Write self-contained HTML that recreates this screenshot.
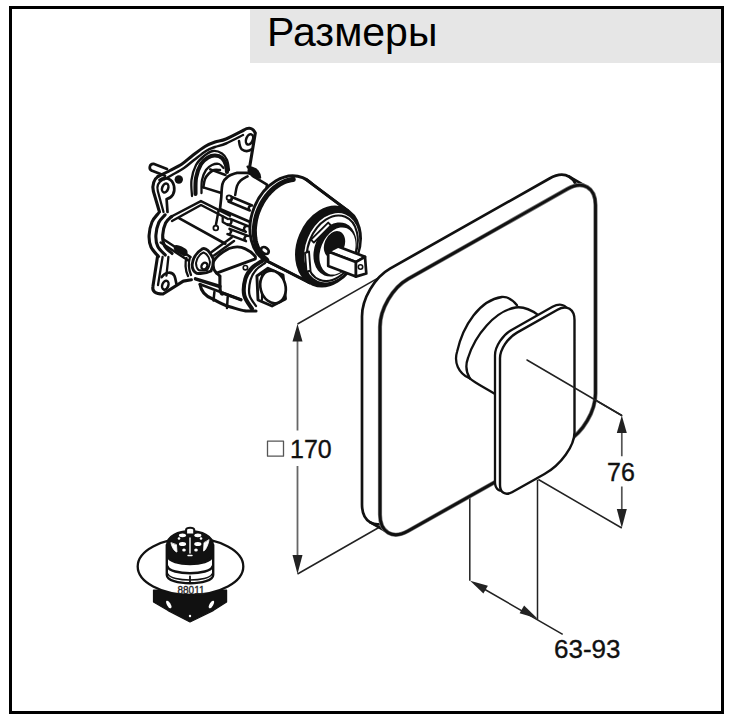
<!DOCTYPE html>
<html><head><meta charset="utf-8"><style>
html,body{margin:0;padding:0;background:#fff;width:739px;height:722px;overflow:hidden}
#frame{position:absolute;left:9px;top:6px;width:709px;height:702px;border:3px solid #000}
#hdr{position:absolute;left:250px;top:9px;width:471px;height:54px;background:#e6e6e6}
.t{position:absolute;font-family:"Liberation Sans",sans-serif;line-height:1;white-space:nowrap;color:#111}
.d{-webkit-text-stroke:0.35px #111}
svg{position:absolute;left:0;top:0}
</style></head><body>
<div id="frame"></div>
<div id="hdr"></div>
<div class="t" style="left:267px;top:12px;font-size:41px;color:#000">Размеры</div>
<svg width="739" height="722" viewBox="0 0 739 722" fill="none" stroke-linecap="round" stroke-linejoin="round">
<path d="M297.5 324 L381 276.3 M297.5 574 L390.2 521 M527 360 L621.8 415.5 M538.4 479.5 L621.8 528 M469.8 477 L469.8 580.8 M537.5 479.7 L537.5 619.6 M478 585.5 L562.7 634.3" stroke="#222" stroke-width="1.5" stroke-linecap="butt"/>
<path d="M297.5 338 L297.5 430.6 M297.5 465.9 L297.5 560" stroke="#666" stroke-width="1.8" stroke-linecap="butt"/>
<path d="M297.5 324.0 L302.5 341.5 L292.5 341.5 Z" fill="#222" stroke="none"/>
<path d="M297.5 574.0 L292.5 555.0 L302.5 555.0 Z" fill="#222" stroke="none"/>
<path d="M621.8 430 L621.8 456.3 M621.8 486.4 L621.8 512" stroke="#555" stroke-width="1.7" stroke-linecap="butt"/>
<path d="M621.8 415.5 L626.8 433.0 L616.8 433.0 Z" fill="#222" stroke="none"/>
<path d="M621.8 528.0 L616.8 509.0 L626.8 509.0 Z" fill="#222" stroke="none"/>
<path d="M470.1 580.7 L487.9 585.8 L483.4 593.6 Z" fill="#222" stroke="none"/>
<path d="M537.4 618.4 L519.6 613.3 L524.1 605.5 Z" fill="#222" stroke="none"/>
<rect x="267.5" y="441.2" width="16" height="15" stroke="#555" stroke-width="1.3"/>
<path d="M362.0 316.4C362.0 298.8 374.6 277.3 390.0 268.6L549.5 178.5C564.9 169.8 577.5 177.1 577.5 194.7L577.5 383.0C577.5 400.6 564.9 422.1 549.5 430.8L390.0 520.6C374.6 529.3 362.0 522.0 362.0 504.4Z" fill="#fff" stroke="#111" stroke-width="2.7"/>
<path d="M569.3 176.7 L587.3 187.1 M370.3 522.3 L388.3 532.7" stroke="#111" stroke-width="2.6"/>
<path d="M380.0 326.8C380.0 309.2 392.6 287.7 408.0 279.0L567.5 188.9C582.9 180.2 595.5 187.5 595.5 205.1L595.5 393.4C595.5 411.0 582.9 432.5 567.5 441.2L408.0 531.0C392.6 539.7 380.0 532.4 380.0 514.8Z" fill="#fff" stroke="#777" stroke-width="4.2"/>
<path d="M380.0 326.8C380.0 309.2 392.6 287.7 408.0 279.0L567.5 188.9C582.9 180.2 595.5 187.5 595.5 205.1L595.5 393.4C595.5 411.0 582.9 432.5 567.5 441.2L408.0 531.0C392.6 539.7 380.0 532.4 380.0 514.8Z" fill="none" stroke="#111" stroke-width="2.8"/>
<path d="M469.5 378.3 C458 373 454 362 457 352 C463 325 480 300 501.8 297 C508 296.5 513 300 517 305.2 L538.3 315.1 L494.2 393.5 Z" fill="#fff" stroke="none"/>
<path d="M469.5 378.3 C458 373 454 362 457 352 C463 325 480 300 501.8 297 C508 296.5 513 300 517 305.2" stroke="#111" stroke-width="2.3"/>
<path d="M469.8 378.3 C466 372 465 366 468 358 C475 335 495 311 515.5 307.5 C522 306.5 530 309 538.3 315.1" stroke="#111" stroke-width="2.3"/>
<path d="M469.8 378.3 C472 381 476 383 494.2 393.5" stroke="#111" stroke-width="2.3"/>
<path d="M495.0 355.3C495.0 346.5 502.6 335.0 512.0 329.7L552.5 306.8C561.9 301.5 569.5 306.2 569.5 317.2L569.5 429.3C569.5 443.0 556.0 461.8 539.5 471.1L507.0 489.3C500.4 493.0 495.0 489.7 495.0 482.0Z" fill="#fff" stroke="#111" stroke-width="2.3"/>
<path d="M500.0 358.2C500.0 349.4 507.6 337.9 517.0 332.6L557.5 309.7C566.9 304.4 574.5 309.1 574.5 320.1L574.5 432.2C574.5 445.9 561.0 464.7 544.5 474.0L512.0 492.2C505.4 495.9 500.0 492.6 500.0 484.9Z" fill="#fff" stroke="#111" stroke-width="2.4"/>
<path d="M527 360 L621.8 415.5" stroke="#222" stroke-width="1.5"/>
<path d="M164.4 175.2 L185.5 159 L205 144.4 L226 139.5 L247 127.5 L255.3 133 L249 172 L262 200 L240 262 L191.4 279.8 L183.3 281.1 L163 294 C155 294 152 291 152.9 286.5 L157.6 254 L160.5 212 L153.3 191 C152 185 154 178 160 175 Z" fill="#fff" stroke="none" stroke-width="0.00"/>
<path d="M158.0 176.5C160.0 175.5 166.0 172.6 170.0 170.5C174.0 168.4 178.3 166.4 182.0 164.0C185.7 161.6 188.2 158.9 192.0 156.0C195.8 153.1 201.2 148.8 205.0 146.5C208.8 144.2 211.5 143.2 215.0 142.0C218.5 140.8 221.2 141.0 226.0 139.0C230.8 137.0 241.0 131.5 244.0 130.0 C247 128 252 126.5 255.3 133 L249 171" fill="none" stroke="#111" stroke-width="3.10"/>
<path d="M164.0 179.5C165.3 178.8 168.7 176.9 172.0 175.0C175.3 173.1 180.3 170.5 184.0 168.0C187.7 165.5 190.3 162.8 194.0 160.0C197.7 157.2 202.5 153.2 206.0 151.0C209.5 148.8 211.7 148.2 215.0 147.0C218.3 145.8 221.3 145.5 226.0 143.5C230.7 141.5 240.2 136.4 243.0 135.0" fill="none" stroke="#111" stroke-width="2.50"/>
<path d="M239 141 C239.5 145 240 148 242 149.5 C245 151.5 249 151.5 252 149" fill="none" stroke="#111" stroke-width="2.50"/>
<ellipse cx="249.5" cy="139.4" rx="3.3" ry="5.4" transform="rotate(20.0 249.5 139.4)" fill="none" stroke="#111" stroke-width="2.50"/>
<path d="M158 176.5 C154 179 152 185 153.3 191 L159.5 212" fill="none" stroke="#111" stroke-width="3.10"/>
<path d="M163 179.5 C158.5 182 156.5 186 157.8 191 L163.5 212" fill="none" stroke="#111" stroke-width="2.30"/>
<path d="M159.5 180 C165 176 172.5 178.5 174 186 C175.5 193 172 198 166.6 199 L167.5 212" fill="none" stroke="#111" stroke-width="2.70"/>
<ellipse cx="165.2" cy="188.0" rx="3.0" ry="4.6" transform="rotate(20.0 165.2 188.0)" fill="none" stroke="#111" stroke-width="2.50"/>
<path d="M157.6 256 L152.9 286.5 C152 291 155 294 163 294 L183.3 281.1 L191.4 279.8" fill="none" stroke="#111" stroke-width="3.10"/>
<path d="M162.6 257 L158 285" fill="none" stroke="#111" stroke-width="2.30"/>
<ellipse cx="165.3" cy="285.2" rx="3.0" ry="4.6" transform="rotate(20.0 165.3 285.2)" fill="none" stroke="#111" stroke-width="2.50"/>
<path d="M161.7 277 C165 272 172 271 174.5 276 C176 280 176 283 176.5 284" fill="none" stroke="#111" stroke-width="2.70"/>
<path d="M168.4 256.8 L166.4 275.7" fill="none" stroke="#111" stroke-width="2.30"/>
<path d="M153.5 163.8 L167 169 M151.5 170.5 L165 175.8 M153.5 163.8 C149.5 163.5 148.5 169 151.5 170.5" fill="none" stroke="#111" stroke-width="2.70"/>
<circle cx="178.8" cy="179.5" r="4.2" fill="#111"/>
<path d="M218.5 211 L215.8 225.5" fill="none" stroke="#111" stroke-width="2.50"/>
<circle cx="215.8" cy="228" r="2.4" fill="#fff" stroke="#111" stroke-width="1.8"/>
<path d="M192.0 196.0C191.9 193.3 190.8 185.2 191.5 180.0C192.2 174.8 193.9 169.0 196.0 165.0C198.1 161.0 201.2 158.3 204.0 156.0C206.8 153.7 210.0 151.4 213.0 151.0C216.0 150.6 219.7 152.0 222.0 153.5C224.3 155.0 225.8 157.2 227.0 160.0C228.2 162.8 228.7 168.3 229.0 170.0" fill="none" stroke="#111" stroke-width="2.30"/>
<path d="M195.5 194.0C195.6 191.3 195.1 183.0 196.0 178.0C196.9 173.0 199.0 167.4 201.0 164.0C203.0 160.6 205.7 158.9 208.0 157.5C210.3 156.1 212.7 155.4 215.0 155.5C217.3 155.6 220.2 156.4 222.0 158.0C223.8 159.6 225.2 162.7 226.0 165.0C226.8 167.3 226.8 170.8 227.0 172.0" fill="none" stroke="#111" stroke-width="4.10"/>
<path d="M201.5 193.0C201.6 190.8 201.2 183.8 202.0 180.0C202.8 176.2 204.3 172.5 206.0 170.0C207.7 167.5 209.8 166.0 212.0 165.0C214.2 164.0 217.1 163.5 219.0 164.0C220.9 164.5 222.8 167.3 223.5 168.0" fill="none" stroke="#111" stroke-width="2.30"/>
<path d="M203.3 187.4C203.6 186.0 204.1 181.3 205.0 179.0C205.9 176.7 207.4 175.0 208.9 173.5C210.4 172.0 212.2 170.6 214.0 170.0C215.8 169.4 219.0 170.0 220.0 170.0" fill="none" stroke="#111" stroke-width="2.50"/>
<path d="M210.2 169.4 L225.5 175 M203.3 187.4 L221.3 193" fill="none" stroke="#111" stroke-width="2.50"/>
<path d="M221.3 197.0C221.5 194.7 221.5 186.6 222.7 183.2C223.8 179.8 225.9 178.0 228.2 176.3C230.5 174.6 235.2 173.5 236.6 172.9 L246.2 172.9 C250 173 252 174.5 253.2 176.3 L267 184.6 L262 227 L220 209 Z" fill="#fff" stroke="#111" stroke-width="2.70"/>
<path d="M235.2 195.0C235.5 193.5 236.1 188.4 237.0 186.0C237.9 183.6 238.9 182.1 240.7 180.5C242.5 178.9 246.4 177.0 247.6 176.3" fill="none" stroke="#111" stroke-width="2.50"/>
<path d="M247.6 166.6 C252 167.5 256 169 257.3 170.8 C259 173 260 175 260.1 177.7 L252 175.5 C251 171 249.5 168.5 247.6 166.6 Z" fill="#111" stroke="#111" stroke-width="2.30"/>
<path d="M228.4 201.5 L249.9 210.5 A2.8 2.8 0 0 1 252.1 205.5 L230.6 196.5 A2.8 2.8 0 0 1 228.4 201.5 Z" fill="#fff" stroke="#111" stroke-width="2.50"/>
<path d="M227.4 224.3 L245.9 231.8 A3.0 3.0 0 0 1 248.1 226.2 L229.6 218.7 A3.0 3.0 0 0 1 227.4 224.3 Z" fill="#fff" stroke="#111" stroke-width="2.50"/>
<path d="M227.5 234.1 L246.0 241.1 A2.8 2.8 0 0 1 248.0 235.9 L229.5 228.9 A2.8 2.8 0 0 1 227.5 234.1 Z" fill="#fff" stroke="#111" stroke-width="2.50"/>
<path d="M222.7 216.5 L222.7 222 L228 225" fill="none" stroke="#111" stroke-width="2.30"/>
<circle cx="229" cy="197.8" r="2.4" fill="#fff" stroke="#111" stroke-width="1.8"/>
<path d="M158.3 213.3C157.2 214.8 153.5 218.3 152.0 222.0C150.5 225.7 149.3 231.0 149.1 235.2C148.9 239.4 149.4 243.4 151.0 247.0C152.6 250.6 157.2 254.9 158.5 256.5" fill="none" stroke="#111" stroke-width="3.10"/>
<path d="M165.1 214.8C164.1 216.1 160.3 219.1 158.8 222.5C157.3 225.9 156.1 231.2 155.9 235.2C155.7 239.2 156.2 243.2 157.8 246.5C159.4 249.8 164.1 253.6 165.3 255.0" fill="none" stroke="#111" stroke-width="3.10"/>
<path d="M171.9 216.3C170.8 217.4 167.1 219.8 165.6 223.0C164.1 226.2 162.9 231.4 162.7 235.2C162.5 239.0 163.0 242.9 164.6 246.0C166.2 249.1 170.8 252.2 172.1 253.5" fill="none" stroke="#111" stroke-width="3.10"/>
<path d="M170.5 217 L200.9 201.1 L230 215.7 M172 221 L201 205 L228 219" fill="none" stroke="#111" stroke-width="2.50"/>
<path d="M179 218.1 L225.3 243.7" fill="none" stroke="#111" stroke-width="2.70"/>
<path d="M160.7 242.5 L188.7 260.8 M163 239 L190.5 257" fill="none" stroke="#111" stroke-width="2.50"/>
<path d="M175.3 246.2 C178 245 185 249 186.3 251 C187 254 186 255.5 184 255 L176 250.5 C174.5 249 174.5 247 175.3 246.2 Z" fill="#111" stroke="#111" stroke-width="2.10"/>
<path d="M211.6 252 L231.6 237.6 M214 255.5 L234 241" fill="none" stroke="#111" stroke-width="2.50"/>
<path d="M200 284.3 C201 291 205 296 212.2 298.7 C218 302 223 305 228.8 306.5 C236 308.5 241 310.5 245.4 310.9 L256 311" fill="#fff" stroke="#111" stroke-width="3.10"/>
<path d="M200 284.3 L241 299.8" fill="none" stroke="#111" stroke-width="2.70"/>
<path d="M214.4 292 L213.5 300.5 M227.7 297 L227 308" fill="none" stroke="#111" stroke-width="2.50"/>
<path d="M195.5 278.8 L219.9 286.5" fill="none" stroke="#111" stroke-width="3.50"/>
<path d="M213.3 262 C216 256 222 252.2 229 248.5 C234 246.6 240 246 245.4 248.9 C250 251 253 253.5 255.4 256.6 L255.4 258.8 L216.6 273.2 C213.5 270 212.5 266 213.3 262 Z" fill="#fff" stroke="#111" stroke-width="2.90"/>
<path d="M219.9 276 L219.9 286 C220 293 222 296 223.2 293.2 L241 299.8" fill="none" stroke="#111" stroke-width="3.10"/>
<path d="M216.6 273.2 L219.9 276" fill="none" stroke="#111" stroke-width="2.70"/>
<circle cx="245.4" cy="267.7" r="2.2" fill="#fff" stroke="#111" stroke-width="1.6"/>
<path d="M192.2 264.4 C193 258 197 252 202.2 248.9 C206 247 210 252 213.3 258.8 C213.5 264 212.5 268 211 271 C207 273 201 274 196.6 273.2 C193.5 271.5 192 268 192.2 264.4 Z" fill="#fff" stroke="#111" stroke-width="2.90"/>
<path d="M196 263 C197 258 200 254 203.5 252.5 C207 254 209.5 258 210 262 C209.5 266 208.5 268.5 207 270 C204 270.5 200.5 270.8 198.5 270 C196.5 268 196 265.5 196 263 Z" fill="none" stroke="#111" stroke-width="2.00"/>
<ellipse cx="204.4" cy="266.0" rx="2.8" ry="3.6" transform="rotate(30.0 204.4 266.0)" fill="none" stroke="#111" stroke-width="2.30"/>
<path d="M186.5 258 C185 262 185 270 188 276 M190 257 C188.5 262 188.5 269 191 275" fill="none" stroke="#111" stroke-width="2.30"/>
<path d="M262.0 261.0C260.3 262.2 254.8 265.0 252.0 268.0C249.2 271.0 246.7 274.2 245.4 278.8C244.1 283.4 243.2 290.4 244.3 295.4C245.4 300.4 250.7 306.5 252.0 308.7" fill="none" stroke="#111" stroke-width="4.10"/>
<path d="M265.0 263.0C263.5 264.2 258.4 267.2 256.0 270.0C253.6 272.8 251.6 275.8 250.5 280.0C249.4 284.2 248.6 290.7 249.5 295.0C250.4 299.3 254.9 304.2 256.0 306.0" fill="none" stroke="#111" stroke-width="2.30"/>
<path d="M256.9 276 L268 268.2 L283 275 L285.5 299 L272 306 L258 300 Z" fill="#fff" stroke="#111" stroke-width="2.90"/>
<path d="M262 274.5 L262 300" fill="none" stroke="#111" stroke-width="2.10"/>
<ellipse cx="273.0" cy="287.0" rx="12.5" ry="16.5" transform="rotate(-15.0 273.0 287.0)" fill="#fff" stroke="#111" stroke-width="2.70"/>
<ellipse cx="285.4" cy="219.7" rx="45.4" ry="33.5" transform="rotate(-67.7 285.4 219.7)" fill="#fff" stroke="#111" stroke-width="2.90"/>
<path d="M264.5 259.8 L309.6 282.7 L347.4 210.3 L306.3 179.6Z" fill="#fff" stroke="none" stroke-width="0.00"/>
<path d="M264.5 259.8 L309.6 282.7 M306.3 179.6 L347.4 210.3" fill="none" stroke="#111" stroke-width="2.90"/>
<path d="M266.6 259.9 L265.0 258.5 L263.4 257.0 L262.0 255.4 L260.7 253.6 L259.4 251.7 L258.3 249.7 L257.4 247.5 L256.5 245.3 L255.8 242.9 L255.2 240.5 L254.8 238.0 L254.5 235.4 L254.4 232.7 L254.3 230.1 L254.5 227.3 L254.8 224.6 L255.2 221.8 L255.7 219.1 L256.4 216.3 L257.2 213.6 L258.2 210.9 L259.3 208.3 L260.5 205.7 L261.8 203.2 L263.2 200.8 L264.8 198.4 L266.4 196.2 L268.2 194.0 L270.0 192.0 L271.9 190.1 L273.8 188.3 L275.9 186.7 L277.9 185.2 L280.1 183.9 L282.2 182.7 L284.4 181.7 L286.6 180.9 L288.8 180.2 L291.0 179.7 L293.2 179.4" fill="none" stroke="#111" stroke-width="5.10"/>
<path d="M264.5 259.8 L309.6 282.7 M306.3 179.6 L347.4 210.3" fill="none" stroke="#111" stroke-width="2.90"/>
<ellipse cx="264.9" cy="250.5" rx="4.2" ry="3.0" transform="rotate(35.0 264.9 250.5)" fill="none" stroke="#111" stroke-width="2.70"/>
<ellipse cx="328.5" cy="246.5" rx="41.0" ry="30.3" transform="rotate(-67.7 328.5 246.5)" fill="#111" stroke="#111" stroke-width="2.70"/>
<ellipse cx="331.7" cy="247.7" rx="36.0" ry="25.8" transform="rotate(-67.7 331.7 247.7)" fill="#fff" stroke="none" stroke-width="0.00"/>
<ellipse cx="332.3" cy="248.3" rx="34.0" ry="23.8" transform="rotate(-67.7 332.3 248.3)" fill="none" stroke="#111" stroke-width="2.10"/>
<ellipse cx="335.0" cy="249.5" rx="28.0" ry="20.3" transform="rotate(-67.7 335.0 249.5)" fill="#111" stroke="none" stroke-width="0.00"/>
<ellipse cx="337.5" cy="251.0" rx="24.5" ry="16.8" transform="rotate(-67.7 337.5 251.0)" fill="#fff" stroke="none" stroke-width="0.00"/>
<ellipse cx="334.5" cy="244.5" rx="14.0" ry="10.0" transform="rotate(-67.7 334.5 244.5)" fill="#111" stroke="none" stroke-width="0.00"/>
<path d="M311 239.7 L328.2 222.6 L331 225.5 L313.8 242.6 Z" fill="#fff" stroke="#111" stroke-width="1.90"/>
<path d="M305 253 L309 251.5 L310.5 270.5 L306.5 272 Z" fill="#fff" stroke="#111" stroke-width="1.90"/>
<path d="M328.2 251.6 L338.0 246.5 L365.0 256.8 L355.8 262.1Z" fill="#fff" stroke="#111" stroke-width="2.70"/>
<path d="M355.8 262.1 L365.0 256.8 L366.3 273.5 L355.8 276.6Z" fill="#fff" stroke="#111" stroke-width="2.70"/>
<path d="M328.2 251.6 L355.8 262.1 L355.8 276.6 L328.2 266.0Z" fill="#fff" stroke="#111" stroke-width="2.70"/>
<circle cx="360.5" cy="267" r="2.2" fill="none" stroke="#111" stroke-width="1.6"/>
<path d="M153.5 590 L226.6 590 L226.6 602 L213.2 610.6 L190 622 L168.1 610.6 L153.5 602 Z" fill="#111" stroke="#111" stroke-width="1.20"/>
<ellipse cx="168.8" cy="604.5" rx="1.8" ry="4.2" transform="rotate(-30 168.8 604.5)" fill="#fff"/>
<ellipse cx="211.4" cy="604.5" rx="1.8" ry="4.2" transform="rotate(30 211.4 604.5)" fill="#fff"/>
<circle cx="190" cy="616" r="1.2" fill="#fff"/>
<ellipse cx="190.5" cy="566.5" rx="52.8" ry="28.3" fill="#fff" stroke="#111" stroke-width="2.3"/>
<path d="M166.8 545 L166.8 575 C167 586 213 586 213.2 575 L213.2 545 Z" fill="#fff" stroke="#111" stroke-width="2.40"/>
<path d="M166.8 545 C167 526 213 526 213.2 545 L213.2 553 C213 566 167 566 166.8 553 Z" fill="#111" stroke="#111" stroke-width="1.50"/>
<path d="M167.5 556 C170 566.5 210 566.5 212.5 556" fill="none" stroke="#111" stroke-width="2.60"/>
<path d="M167.5 566.5 C170 575.5 210 575.5 212.5 566.5" fill="none" stroke="#111" stroke-width="2.60"/>
<path d="M168 574 C171 582 209 582 212 574" fill="none" stroke="#111" stroke-width="1.40"/>
<path d="M190 576.5 L190 583" fill="none" stroke="#111" stroke-width="1.80"/>
<ellipse cx="182.5" cy="535.3" rx="3.6" ry="1.9" fill="#fff"/>
<ellipse cx="197.8" cy="535.3" rx="3.6" ry="1.9" fill="#fff"/>
<ellipse cx="182.5" cy="543.9" rx="3.6" ry="2.0" fill="#fff"/>
<ellipse cx="197.8" cy="543.9" rx="3.6" ry="2.0" fill="#fff"/>
<ellipse cx="184.0" cy="550.0" rx="1.8" ry="1.6" fill="#fff"/>
<ellipse cx="196.0" cy="550.0" rx="1.8" ry="1.6" fill="#fff"/>
<ellipse cx="179.0" cy="538.5" rx="1.3" ry="1.3" fill="#fff"/>
<ellipse cx="201.0" cy="538.5" rx="1.3" ry="1.3" fill="#fff"/>
<path d="M171 543 C172 548 175 552 177 552 L176.5 545 Z" fill="#fff" stroke="#fff" stroke-width="0.80"/>
<path d="M209 540 C208 546 205 551 203.5 551 L204 543 Z" fill="#fff" stroke="#fff" stroke-width="0.80"/>
<path d="M190 538 L190 553" fill="None" stroke="#fff" stroke-width="1.40"/>
<path d="M188 555.5 L192 555.5" fill="None" stroke="#fff" stroke-width="1.40"/>
<path d="M186.1 533.5 L186.1 529.5 C186.5 527 193.8 527 194.2 529.5 L194.2 533.5" fill="#fff" stroke="#111" stroke-width="2.00"/>
</svg>
<div class="t d" style="left:290px;top:437px;font-size:25px">170</div>
<div class="t d" style="left:607px;top:460px;font-size:25px">76</div>
<div class="t d" style="left:554px;top:636px;font-size:26px">63-93</div>
<div class="t" style="left:177.5px;top:586px;font-size:10px;color:#222;-webkit-text-stroke:0.3px #222">88011</div>
</body></html>
